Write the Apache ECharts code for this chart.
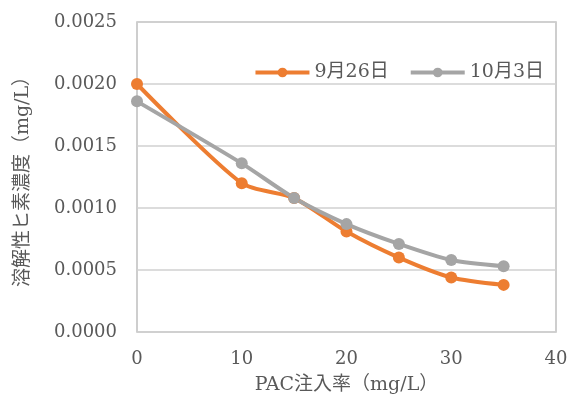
<!DOCTYPE html>
<html>
<head>
<meta charset="utf-8">
<script src="https://cdn.jsdelivr.net/npm/echarts@6/dist/echarts.min.js"></script>
<style>html,body{margin:0;padding:0;background:#fff;}#c{width:571px;height:405px;}</style>
</head>
<body>
<div id="c"></div>
<script>
var xValues = [0, 10, 15, 20, 25, 30, 35];
var seriesNames = ['9月26日', '10月3日'];
var sep26 = [0.00200, 0.00120, 0.00108, 0.00081, 0.00060, 0.00044, 0.00038];
var oct3 = [0.00186, 0.00136, 0.00108, 0.00087, 0.00071, 0.00058, 0.00053];
var xTitle = 'PAC注入率（mg/L）';
var yTitle = '溶解性ヒ素濃度（mg/L）';

var FONT = '"DejaVu Serif", "Noto Sans CJK JP", serif';
function pairs(vals){ return xValues.map(function(x,i){ return [x, vals[i]]; }); }

var chart = echarts.init(document.getElementById('c'));
chart.setOption({
  animation: false,
  textStyle: { fontFamily: FONT },
  grid: { left: 137, right: 15, top: 22, bottom: 73, show: true, borderColor: '#bfbfbf', borderWidth: 1.5,
    containLabel: false, outerBoundsMode: 'none' },
  legend: {
    top: 58, right: 22,
    itemWidth: 54, itemHeight: 12, itemGap: 20,
    lineStyle: { width: 4 },
    textStyle: { fontFamily: FONT, fontSize: 19, color: '#595959' },
    data: seriesNames
  },
  xAxis: {
    type: 'value', min: 0, max: 40, interval: 10,
    name: xTitle, nameLocation: 'middle', nameGap: 44,
    nameTextStyle: { fontFamily: FONT, fontSize: 19, color: '#595959' },
    axisLine: { show: false }, axisTick: { show: false },
    splitLine: { show: false },
    axisLabel: { fontFamily: FONT, fontSize: 18, color: '#595959', margin: 18 }
  },
  yAxis: {
    type: 'value', min: 0, max: 0.0025, interval: 0.0005,
    name: yTitle, nameLocation: 'middle', nameGap: 104,
    nameTextStyle: { fontFamily: FONT, fontSize: 19, color: '#595959' },
    axisLine: { show: false }, axisTick: { show: false },
    splitLine: { lineStyle: { color: '#d0d0d0', width: 1.5 } },
    axisLabel: { fontFamily: FONT, fontSize: 18, color: '#595959', margin: 20,
      formatter: function(v){ return v.toFixed(4); } }
  },
  series: [
    { name: seriesNames[0], type: 'line', data: pairs(sep26), smooth: 0.25,
      symbol: 'circle', symbolSize: 12,
      lineStyle: { color: '#ed7d31', width: 4 }, itemStyle: { color: '#ed7d31' } },
    { name: seriesNames[1], type: 'line', data: pairs(oct3), smooth: 0.25,
      symbol: 'circle', symbolSize: 12,
      lineStyle: { color: '#a5a5a5', width: 4 }, itemStyle: { color: '#a5a5a5' } }
  ]
});
</script>
</body>
</html>
